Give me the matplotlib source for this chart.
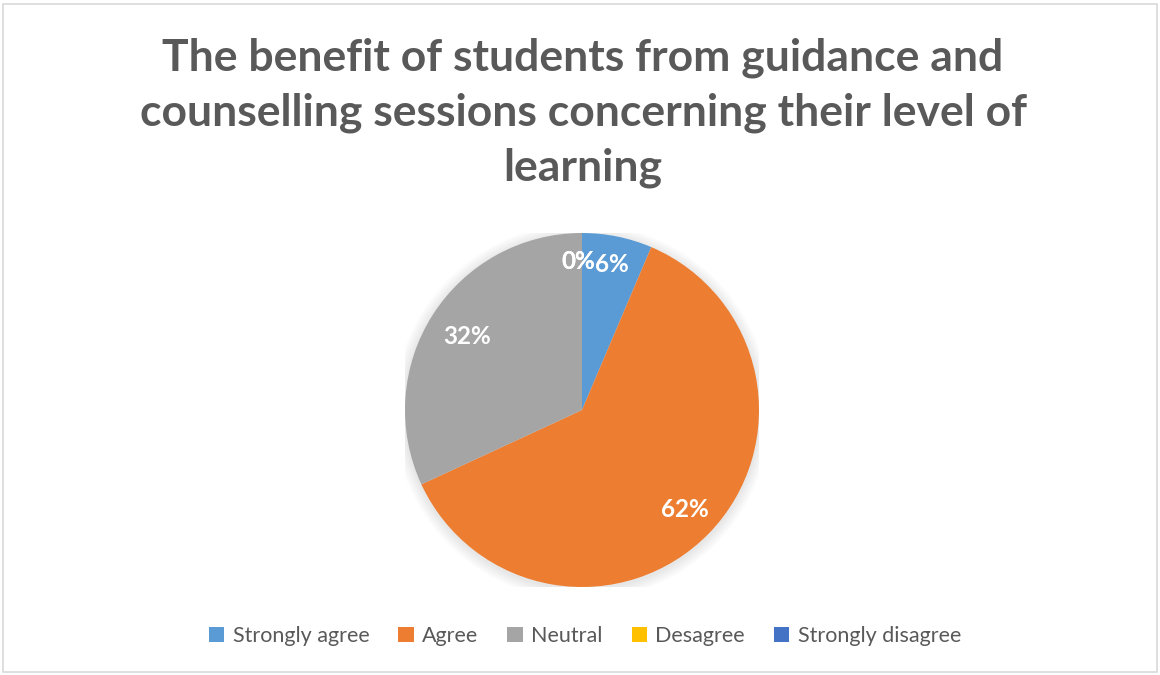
import matplotlib
matplotlib.use("Agg")
import matplotlib.pyplot as plt
from matplotlib.patches import Rectangle, Circle

categories = ["Strongly agree", "Agree", "Neutral", "Desagree", "Strongly disagree"]
shares = [6.4, 61.7, 31.9, 0.0, 0.0]
colors = ["#5B9BD5", "#ED7D31", "#A5A5A5", "#FFC000", "#4472C4"]
title = "The benefit of students from guidance and\ncounselling sessions concerning their level of\nlearning"

# radial placement of each percentage label (fraction of the radius)
label_dist = [0.84, 0.81, 0.77, 0.84, 0.84]

W, H = 1160, 675
fig = plt.figure(figsize=(W / 100, H / 100), dpi=100)
fig.patch.set_facecolor("white")

# chart-area border
fig.add_artist(Rectangle((3 / W, 3 / H), 1154 / W, 668 / H, transform=fig.transFigure,
                         fill=False, edgecolor="#D9D9D9", linewidth=1.2))

fig.text(583 / W, 1 - 113 / H, title, ha="center", va="center", fontsize=32,
         fontweight="bold", color="#595959", family="Lato", linespacing=1.44)

cx, cy, r = 582, 410, 177
ax = fig.add_axes([(cx - r) / W, (H - cy - r) / H, 2 * r / W, 2 * r / H])

# soft shadow around the pie
for i in range(8):
    ax.add_patch(Circle((0.0, -0.01), 1.0 + 0.008 * (i + 1), facecolor="#000000",
                        edgecolor="none", alpha=0.012, zorder=0))

base = 0.8
wedges, texts, autotexts = ax.pie(
    shares, colors=colors, startangle=90, counterclock=False, radius=1.0,
    autopct=lambda p: f"{p:.0f}%", pctdistance=base,
    wedgeprops=dict(linewidth=0), textprops=dict(color="white", fontsize=17.5,
                                                  fontweight="bold", family="Lato"))
ax.set_xlim(-1, 1)
ax.set_ylim(-1, 1)
ax.set_aspect("equal")
ax.axis("off")
for w in wedges:
    w.set_zorder(2)
for v, d, t in zip(shares, label_dist, autotexts):
    t.set_zorder(3)
    x, y = t.get_position()
    t.set_position((x * d / base, y * d / base))
    if v == 0:
        # zero-share labels sit just left of the top edge
        t.set_ha("right")
        t.set_x(0.075)

handles = [Rectangle((0, 0), 1, 1, facecolor=c, edgecolor="none") for c in colors]
leg = fig.legend(handles, categories, loc="center", bbox_to_anchor=(585 / W, 1 - 636 / H),
                 ncol=5, frameon=False, handlelength=0.7, handleheight=0.7,
                 handletextpad=0.4, columnspacing=1.35,
                 prop=dict(family="Lato", size=15.5))
for t in leg.get_texts():
    t.set_color("#595959")

fig.savefig("out.png", dpi=100, facecolor="white")
